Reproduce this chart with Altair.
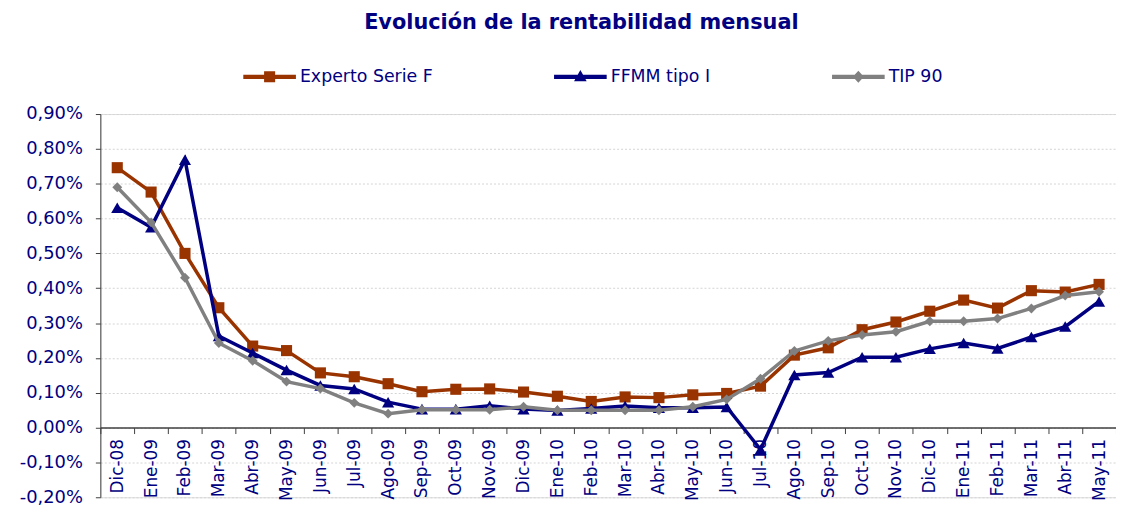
import altair as alt
import pandas as pd

months = ["Dic-08", "Ene-09", "Feb-09", "Mar-09", "Abr-09", "May-09", "Jun-09", "Jul-09",
          "Ago-09", "Sep-09", "Oct-09", "Nov-09", "Dic-09", "Ene-10", "Feb-10", "Mar-10",
          "Abr-10", "May-10", "Jun-10", "Jul-10", "Ago-10", "Sep-10", "Oct-10", "Nov-10",
          "Dic-10", "Ene-11", "Feb-11", "Mar-11", "Abr-11", "May-11"]

experto = [0.746, 0.676, 0.500, 0.344, 0.234, 0.221, 0.157, 0.146, 0.126, 0.103,
           0.110, 0.111, 0.102, 0.090, 0.075, 0.088, 0.086, 0.094, 0.098, 0.119,
           0.208, 0.229, 0.281, 0.303, 0.334, 0.366, 0.343, 0.393, 0.389, 0.411]

ffmm = [0.631, 0.575, 0.769, 0.263, 0.214, 0.165, 0.121, 0.111, 0.073, 0.053,
        0.053, 0.063, 0.053, 0.049, 0.055, 0.062, 0.057, 0.057, 0.059, -0.063,
        0.151, 0.158, 0.202, 0.202, 0.226, 0.243, 0.227, 0.260, 0.290, 0.362]

tip90 = [0.690, 0.589, 0.430, 0.243, 0.192, 0.132, 0.112, 0.071, 0.040, 0.051,
         0.051, 0.051, 0.060, 0.050, 0.050, 0.050, 0.050, 0.060, 0.081, 0.140,
         0.220, 0.249, 0.266, 0.275, 0.305, 0.305, 0.313, 0.342, 0.379, 0.390]

series_names = ["Experto Serie F", "FFMM tipo I", "TIP 90"]
series_colors = ["#993300", "#000080", "#808080"]
marker_shapes = ["square", "triangle-up", "diamond"]
marker_sizes = [125, 150, 100]
legend_paths = [
    "M-1,-0.08L1,-0.08L1,0.08L-1,0.08Z M-0.21,-0.21L0.21,-0.21L0.21,0.21L-0.21,0.21Z",
    "M-1,-0.08L1,-0.08L1,0.08L-1,0.08Z M0,-0.26L0.24,0.17L-0.24,0.17Z",
    "M-1,-0.08L1,-0.08L1,0.08L-1,0.08Z M0,-0.23L0.21,0L0,0.23L-0.21,0Z",
]
y_ticks = [-0.2, -0.1, 0.0, 0.1, 0.2, 0.3, 0.4, 0.5, 0.6, 0.7, 0.8, 0.9]

rows = []
for name, vals in zip(series_names, [experto, ffmm, tip90]):
    for m, v in zip(months, vals):
        rows.append({"mes": m, "serie": name, "valor": v})
df = pd.DataFrame(rows)

NAVY = "#000080"
FONT = "DejaVu Sans"
PLOT_H = 386
Y_MIN, Y_MAX = -0.2, 0.9

x_enc = alt.X(
    "mes:N", sort=months, bandPosition=0.5, title=None,
    scale=alt.Scale(type="band", paddingInner=0, paddingOuter=0),
    axis=alt.Axis(
        orient="bottom", offset=-PLOT_H * (0 - Y_MIN) / (Y_MAX - Y_MIN),
        domainColor="#404040", domainWidth=1.5,
        tickBand="extent", tickColor="#404040", tickSize=6, tickWidth=1,
        labelAngle=270, labelAlign="right", labelBaseline="middle",
        labelFont=FONT, labelFontSize=17, labelColor=NAVY, labelPadding=5,
        labelOverlap=False, grid=False,
    ),
)
y_enc = alt.Y(
    "valor:Q", title=None,
    scale=alt.Scale(domain=[Y_MIN, Y_MAX], nice=False, zero=False),
    axis=alt.Axis(
        values=y_ticks,
        labelExpr="(datum.value < -0.0001 ? '-' : '') + replace(format(abs(datum.value), '.2f'), '.', ',') + '%'",
        domainColor="#404040", domainWidth=1, tickColor="#404040", tickSize=5,
        labelFont=FONT, labelFontSize=18, labelColor=NAVY, labelPadding=13,
        grid=True, gridColor="#d4d4d4", gridDash=[2, 2], gridWidth=1,
    ),
)

base = alt.Chart(df)
layers = []
for name, color, shp, sz in zip(series_names, series_colors, marker_shapes, marker_sizes):
    sub = base.transform_filter(alt.datum.serie == name)
    layers.append(sub.mark_line(color=color, strokeWidth=3.5).encode(x=x_enc, y=y_enc))
    layers.append(sub.mark_point(shape=shp, size=sz, filled=True, color=color, opacity=1)
                  .encode(x=x_enc, y=y_enc))

legend_props = dict(title=None, orient="none", legendX=144, legendY=-64,
                    direction="horizontal", symbolSize=2809,
                    symbolStrokeWidth=0, symbolOpacity=1,
                    labelFont=FONT, labelFontSize=17.5, labelColor=NAVY,
                    labelOffset=4, columnPadding=122, padding=0)

legend_layer = base.transform_filter("false").mark_point(filled=True, opacity=1).encode(
    x=x_enc, y=y_enc,
    color=alt.Color("serie:N", scale=alt.Scale(domain=series_names, range=series_colors),
                    legend=alt.Legend(**legend_props)),
    shape=alt.Shape("serie:N", scale=alt.Scale(domain=series_names, range=legend_paths),
                    legend=alt.Legend(**legend_props)),
)
layers.append(legend_layer)

chart = alt.layer(*layers).properties(
    width=1023, height=PLOT_H,
    title=alt.TitleParams("Evolución de la rentabilidad mensual", font=FONT, fontSize=21,
                          fontWeight="bold", color=NAVY, anchor="middle", frame="group",
                          dx=-27, offset=18),
    autosize=alt.AutoSizeParams(type="none"),
    padding={"left": 93, "top": 105, "right": 0, "bottom": 8},
).configure_view(stroke=None).configure(background="white")

chart.save("out.html", embed_options={"renderer": "svg", "actions": False})
